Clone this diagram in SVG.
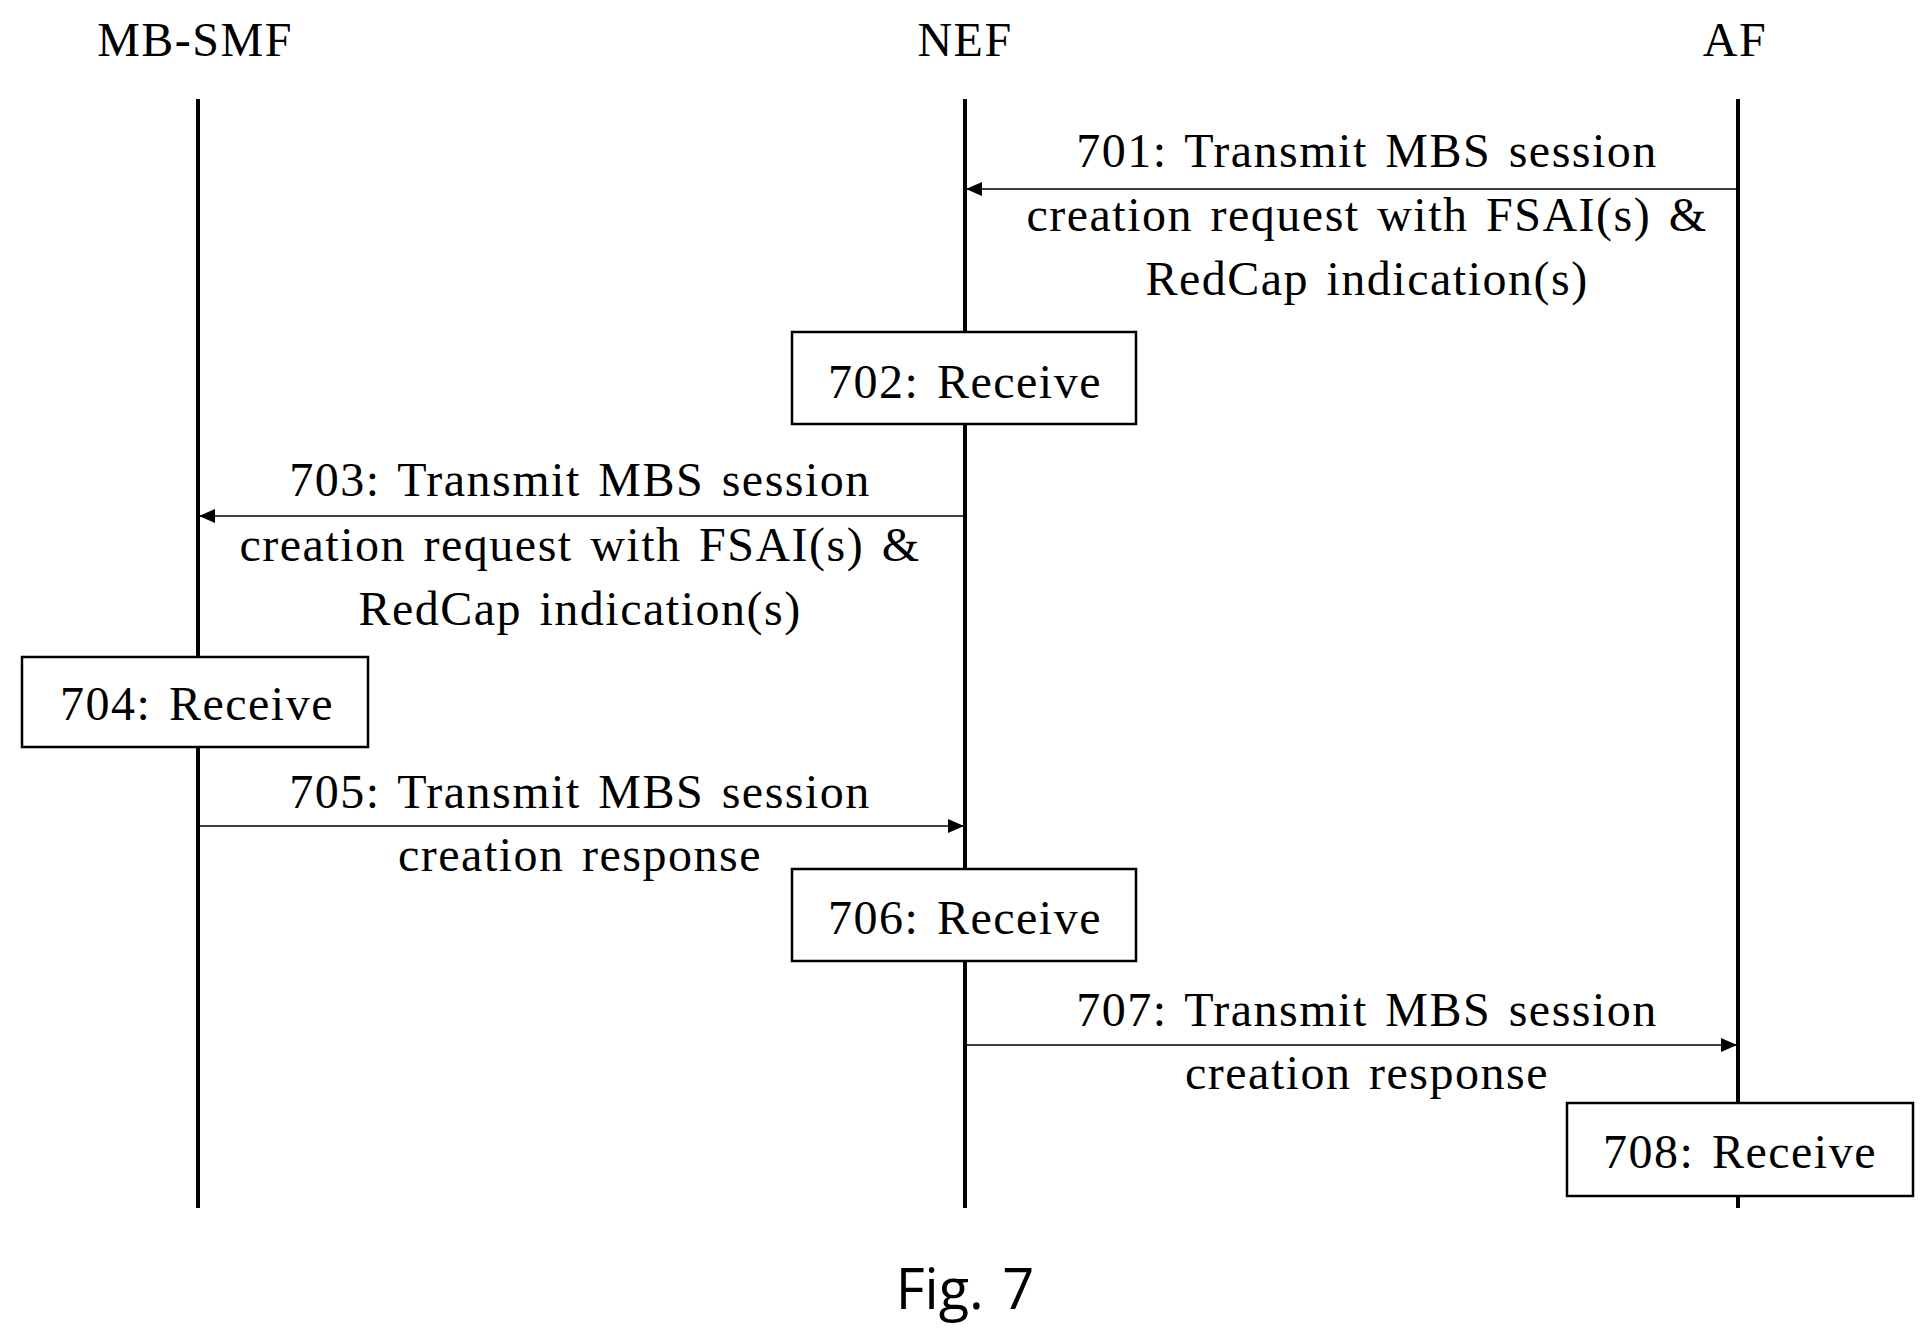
<svg xmlns="http://www.w3.org/2000/svg" width="1927" height="1338" viewBox="0 0 1927 1338">
<style>
text{font-family:"Liberation Serif","Times New Roman",serif;font-size:48px;fill:#000;text-anchor:middle;letter-spacing:1.5px;word-spacing:4px}
.life{stroke:#000;stroke-width:4}
.msg{stroke:#000;stroke-width:1.5;fill:none;marker-end:url(#ah)}
.box{fill:#fff;stroke:#000;stroke-width:2.5}
</style>
<defs><marker id="ah" markerWidth="16" markerHeight="14" refX="16" refY="7" orient="auto" markerUnits="userSpaceOnUse"><path d="M0,0 L16,7 L0,14 z" fill="#000"/></marker></defs>
<rect width="1927" height="1338" fill="#fff"/>
<g id="MB-SMF"><text x="195" y="56">MB-SMF</text><line class="life" x1="198" y1="99" x2="198" y2="1208"/></g>
<g id="NEF"><text x="965" y="56">NEF</text><line class="life" x1="965" y1="99" x2="965" y2="1208"/></g>
<g id="AF"><text x="1735" y="56">AF</text><line class="life" x1="1738" y1="99" x2="1738" y2="1208"/></g>
<g id="connectors">
<line class="msg" x1="1738" y1="189" x2="966" y2="189"/>
<line class="msg" x1="965" y1="516" x2="199" y2="516"/>
<line class="msg" x1="198" y1="826" x2="964" y2="826"/>
<line class="msg" x1="965" y1="1045" x2="1737" y2="1045"/>
</g>
<g id="labels">
<text x="1367" y="167">701: Transmit MBS session</text>
<text x="1367" y="231">creation request  with FSAI(s) &amp;</text>
<text x="1367" y="295">RedCap  indication(s)</text>
<text x="580" y="496">703: Transmit MBS session</text>
<text x="580" y="561">creation request with FSAI(s) &amp;</text>
<text x="580" y="625">RedCap  indication(s)</text>
<text x="580" y="808">705: Transmit MBS session</text>
<text x="580" y="871">creation  response</text>
<text x="1367" y="1026">707: Transmit MBS session</text>
<text x="1367" y="1089">creation  response</text>
</g>
<g id="n702"><rect class="box" x="792" y="332" width="344" height="92"/><text x="965" y="398">702: Receive</text></g>
<g id="n704"><rect class="box" x="22" y="657" width="346" height="90"/><text x="197" y="720">704: Receive</text></g>
<g id="n706"><rect class="box" x="792" y="869" width="344" height="92"/><text x="965" y="934">706: Receive</text></g>
<g id="n708"><rect class="box" x="1567" y="1103" width="346" height="93"/><text x="1740" y="1168">708: Receive</text></g>
<text x="965" y="1309" style="font-family:'Open Sans','Liberation Sans',sans-serif;font-size:56px;letter-spacing:0">Fig. 7</text>
</svg>
